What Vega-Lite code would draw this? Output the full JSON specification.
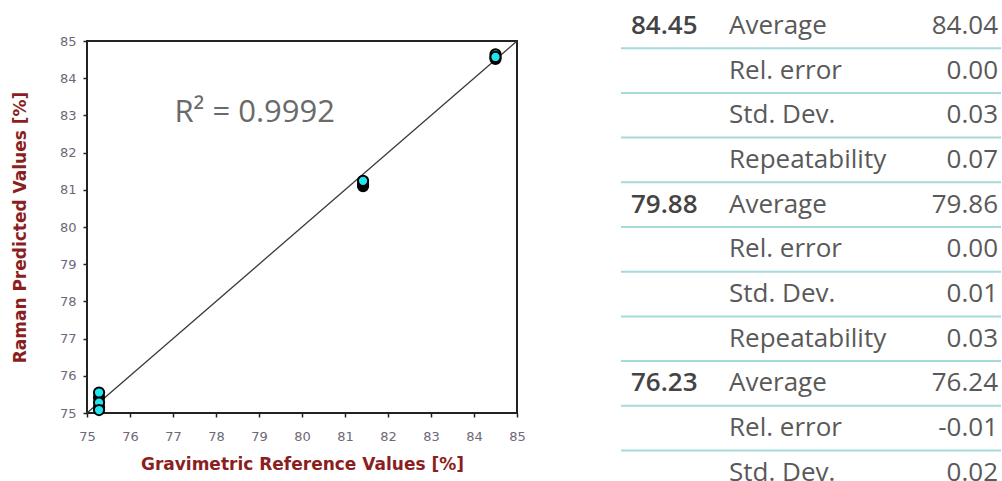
{
  "$schema": "https://vega.github.io/schema/vega-lite/v6.json",
  "background": "white",
  "padding": {"left": 10, "top": 12, "right": 0, "bottom": 0},
  "spacing": 93,
  "config": {"view": {"stroke": null}},
  "hconcat": [
    {
      "width": 430,
      "height": 372,
      "view": {"stroke": "#222222", "strokeWidth": 2},
      "encoding": {
        "x": {
          "field": "ref", "type": "quantitative",
          "scale": {"domain": [75, 85], "nice": false, "zero": false},
          "axis": {
            "title": "Gravimetric Reference Values [%]",
            "values": [75, 76, 77, 78, 79, 80, 81, 82, 83, 84, 85],
            "grid": false, "domain": false, "labelFlush": false, "labelOverlap": false,
            "tickColor": "#222222", "tickSize": 4, "tickWidth": 1.5,
            "labelFont": "DejaVu Sans", "labelFontSize": 13, "labelColor": "#6e6878", "labelPadding": 13,
            "titleFont": "DejaVu Sans", "titleFontSize": 17, "titleFontWeight": "bold", "titleColor": "#8b1f1f", "titlePadding": 13
          }
        },
        "y": {
          "field": "pred", "type": "quantitative",
          "scale": {"domain": [75, 85], "nice": false, "zero": false},
          "axis": {
            "title": "Raman Predicted Values [%]",
            "values": [75, 76, 77, 78, 79, 80, 81, 82, 83, 84, 85],
            "grid": false, "domain": false, "labelFlush": false, "labelOverlap": false,
            "tickColor": "#222222", "tickSize": 4, "tickWidth": 1.5,
            "labelFont": "DejaVu Sans", "labelFontSize": 13, "labelColor": "#6e6878", "labelPadding": 7,
            "titleFont": "DejaVu Sans", "titleFontSize": 17, "titleFontWeight": "bold", "titleColor": "#8b1f1f", "titlePadding": 30
          }
        }
      },
      "layer": [
        {
          "data": {"values": [{"ref": 75, "pred": 75}, {"ref": 85, "pred": 85}]},
          "mark": {"type": "line", "color": "#3a3a3a", "strokeWidth": 1.3}
        },
        {
          "data": {"values": [
            {"ref": 84.5, "pred": 84.52, "series": "A"},
            {"ref": 81.42, "pred": 81.1, "series": "A"},
            {"ref": 81.42, "pred": 81.15, "series": "A"},
            {"ref": 75.28, "pred": 75.42, "series": "A"},
            {"ref": 75.28, "pred": 75.15, "series": "A"},
            {"ref": 84.5, "pred": 84.64, "series": "B"},
            {"ref": 84.5, "pred": 84.57, "series": "B"},
            {"ref": 81.42, "pred": 81.24, "series": "B"},
            {"ref": 75.28, "pred": 75.55, "series": "B"},
            {"ref": 75.28, "pred": 75.28, "series": "B"},
            {"ref": 75.28, "pred": 75.08, "series": "B"}
          ]},
          "mark": {"type": "point", "filled": true, "size": 105, "stroke": "#000000", "strokeWidth": 2, "opacity": 1},
          "encoding": {
            "fill": {"field": "series", "type": "nominal", "scale": {"domain": ["A", "B"], "range": ["#000000", "#22e4ee"]}, "legend": null}
          }
        },
        {
          "data": {"values": [{"ref": 78.9, "pred": 83.07, "label": "R² = 0.9992"}]},
          "mark": {"type": "text", "font": "Open Sans", "fontSize": 31, "color": "#6a6a6a", "align": "center", "baseline": "middle"},
          "encoding": {"text": {"field": "label"}}
        }
      ]
    },
    {
      "width": 380,
      "height": 441,
      "data": {"values": [
        {"row": 0, "ref": "84.45", "stat": "Average", "value": "84.04"},
        {"row": 1, "ref": "", "stat": "Rel. error", "value": "0.00"},
        {"row": 2, "ref": "", "stat": "Std. Dev.", "value": "0.03"},
        {"row": 3, "ref": "", "stat": "Repeatability", "value": "0.07"},
        {"row": 4, "ref": "79.88", "stat": "Average", "value": "79.86"},
        {"row": 5, "ref": "", "stat": "Rel. error", "value": "0.00"},
        {"row": 6, "ref": "", "stat": "Std. Dev.", "value": "0.01"},
        {"row": 7, "ref": "", "stat": "Repeatability", "value": "0.03"},
        {"row": 8, "ref": "76.23", "stat": "Average", "value": "76.24"},
        {"row": 9, "ref": "", "stat": "Rel. error", "value": "-0.01"},
        {"row": 10, "ref": "", "stat": "Std. Dev.", "value": "0.02"}
      ]},
      "encoding": {
        "y": {"field": "row", "type": "ordinal", "axis": null,
              "scale": {"type": "band", "range": [-37.5, 454.2], "paddingInner": 0, "paddingOuter": 0}}
      },
      "layer": [
        {
          "mark": {"type": "rule", "color": "#a6dada", "strokeWidth": 2},
          "encoding": {"y": {"field": "row", "type": "ordinal", "bandPosition": 1}}
        },
        {
          "mark": {"type": "text", "font": "Open Sans", "fontSize": 26, "fontWeight": 600, "color": "#444444", "align": "left", "baseline": "middle"},
          "encoding": {
            "x": {"datum": 10, "type": "quantitative", "scale": {"domain": [0, 380], "nice": false, "zero": false}, "axis": null},
            "text": {"field": "ref"}
          }
        },
        {
          "mark": {"type": "text", "font": "Open Sans", "fontSize": 26, "color": "#595959", "align": "left", "baseline": "middle"},
          "encoding": {
            "x": {"datum": 108, "type": "quantitative"},
            "text": {"field": "stat"}
          }
        },
        {
          "mark": {"type": "text", "font": "Open Sans", "fontSize": 26, "color": "#595959", "align": "right", "baseline": "middle"},
          "encoding": {
            "x": {"datum": 377, "type": "quantitative"},
            "text": {"field": "value"}
          }
        }
      ]
    }
  ]
}
